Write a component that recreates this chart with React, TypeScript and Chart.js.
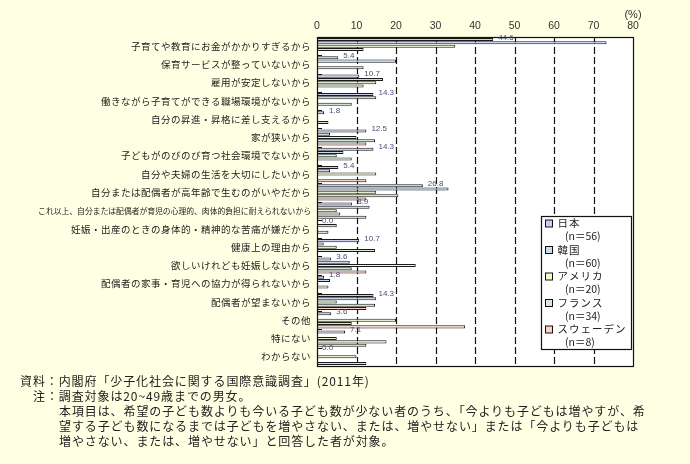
import React, { useEffect, useRef } from 'react';
import { Chart, registerables } from 'chart.js';

Chart.register(...registerables);

const categories = [
  '子育てや教育にお金がかかりすぎるから',
  '保育サービスが整っていないから',
  '雇用が安定しないから',
  '働きながら子育てができる職場環境がないから',
  '自分の昇進・昇格に差し支えるから',
  '家が狭いから',
  '子どもがのびのび育つ社会環境でないから',
  '自分や夫婦の生活を大切にしたいから',
  '自分または配偶者が高年齢で生むのがいやだから',
  'これ以上、自分または配偶者が育児の心理的、肉体的負担に耐えられないから',
  '妊娠・出産のときの身体的・精神的な苦痛が嫌だから',
  '健康上の理由から',
  '欲しいけれども妊娠しないから',
  '配偶者の家事・育児への協力が得られないから',
  '配偶者が望まないから',
  'その他',
  '特にない',
  'わからない',
];

const japan = [44.6, 5.4, 10.7, 14.3, 1.8, 12.5, 14.3, 5.4, 26.8, 8.9, 0.0, 10.7, 3.6, 1.8, 14.3, 3.6, 7.1, 0.0];
const korea = [73.3, 20.0, 16.7, 15.0, 0, 3.3, 6.7, 3.3, 33.3, 13.3, 5.0, 1.7, 8.3, 3.3, 15.0, 0, 0, 0];
const usa = [35.0, 0, 15.0, 0, 0, 10.0, 5.0, 15.0, 15.0, 5.0, 0, 5.0, 25.0, 0, 5.0, 20.0, 5.0, 10.0];
const france = [11.8, 11.8, 11.8, 8.8, 2.9, 14.7, 8.8, 0, 20.6, 5.9, 2.9, 14.7, 8.8, 2.9, 14.7, 8.8, 17.6, 0];
const sweden = [0, 0, 0, 0, 0, 12.5, 0, 12.5, 12.5, 12.5, 0, 0, 12.5, 0, 12.5, 37.5, 12.5, 12.5];

const seriesNames = ['日本', '韓国', 'アメリカ', 'フランス', 'スウェーデン'];
const seriesN = ['(n＝56)', '(n＝60)', '(n＝20)', '(n＝34)', '(n＝8)'];
const seriesColors = ['#CCCCEE', '#C4DCF4', '#F2F9CC', '#D5EBD5', '#F9D4C4'];

const xTicks = [0, 10, 20, 30, 40, 50, 60, 70, 80];

const noteLines = [
  '資料：内閣府「少子化社会に関する国際意識調査」(2011年)',
  '注：調査対象は20~49歳までの男女。',
  '本項目は、希望の子ども数よりも今いる子ども数が少ない者のうち、「今よりも子どもは増やすが、希',
  '望する子ども数になるまでは子どもを増やさない、または、増やせない」または「今よりも子どもは',
  '増やさない、または、増やせない」と回答した者が対象。',
];

const JP_FONT = '"Noto Sans CJK JP", "Noto Sans", sans-serif';
const NUM_FONT = '"Liberation Sans", Arial, sans-serif';

const customPlugin = {
  id: 'customDraw',
  beforeDatasetsDraw(chart: any) {
    const { ctx, chartArea: a, scales } = chart;
    const x = scales.x;
    ctx.save();
    ctx.fillStyle = '#ffffff';
    ctx.fillRect(a.left, a.top, a.right - a.left, a.bottom - a.top);
    ctx.strokeStyle = '#111';
    ctx.lineWidth = 1.2;
    ctx.setLineDash([7, 3]);
    for (const v of xTicks) {
      if (v === 0 || v === 80) continue;
      const px = Math.round(x.getPixelForValue(v)) + 0.5;
      ctx.beginPath();
      ctx.moveTo(px, a.top);
      ctx.lineTo(px, a.bottom);
      ctx.stroke();
    }
    ctx.restore();
  },
  afterDatasetsDraw(chart: any) {
    const { ctx, chartArea: a, scales } = chart;
    const x = scales.x;
    const y = scales.y;
    ctx.save();
    // border
    ctx.strokeStyle = '#111';
    ctx.lineWidth = 1.2;
    ctx.setLineDash([]);
    ctx.strokeRect(Math.round(a.left) + 0.5, Math.round(a.top) + 0.5, Math.round(a.right - a.left), Math.round(a.bottom - a.top));
    // inner ticks at category boundaries
    ctx.lineWidth = 1;
    for (let i = 0; i <= categories.length; i++) {
      const py = Math.round(y.getPixelForValue(i - 0.5)) + 0.5;
      ctx.beginPath();
      ctx.moveTo(a.left, py);
      ctx.lineTo(a.left + 5, py);
      ctx.stroke();
    }
    // data labels for Japan
    const meta = chart.getDatasetMeta(0);
    ctx.font = `8px ${NUM_FONT}`;
    ctx.fillStyle = '#4b4b7d';
    ctx.textAlign = 'left';
    ctx.textBaseline = 'middle';
    meta.data.forEach((bar: any, i: number) => {
      ctx.fillText(japan[i].toFixed(1), bar.x + 5, bar.y - 2);
    });
    // category labels
    ctx.fillStyle = '#222';
    ctx.textAlign = 'right';
    categories.forEach((c, i) => {
      const py = y.getPixelForValue(i);
      if (c.length > 30) {
        ctx.font = `7.8px ${JP_FONT}`;
        (ctx as any).letterSpacing = '0px';
      } else {
        ctx.font = `9.5px ${JP_FONT}`;
        (ctx as any).letterSpacing = '0.5px';
      }
      ctx.fillText(c, a.left - 6, py);
    });
    (ctx as any).letterSpacing = '0px';
    // (%)
    ctx.font = `11px ${NUM_FONT}`;
    ctx.fillStyle = '#333';
    ctx.textAlign = 'center';
    ctx.fillText('(%)', x.getPixelForValue(80), 15);
    // legend
    const bx = 541, by = 216, bw = 90, bh = 133;
    ctx.fillStyle = '#fff';
    ctx.fillRect(bx, by, bw, bh);
    ctx.strokeStyle = '#111';
    ctx.lineWidth = 1.2;
    ctx.strokeRect(bx + 0.5, by + 0.5, bw, bh);
    ctx.lineWidth = 1;
    ctx.textAlign = 'left';
    seriesNames.forEach((name, i) => {
      const ly = 223.5 + i * 26.5;
      ctx.fillStyle = seriesColors[i];
      ctx.fillRect(545.5, ly - 3.5, 7, 7);
      ctx.strokeStyle = '#111';
      ctx.strokeRect(545.5, ly - 3.5, 7, 7);
      ctx.fillStyle = '#222';
      ctx.font = `10.5px ${JP_FONT}`;
      (ctx as any).letterSpacing = '1px';
      ctx.fillText(name, 557.5, ly);
      (ctx as any).letterSpacing = '0px';
      ctx.font = `10.5px ${JP_FONT}`;
      ctx.fillText(seriesN[i], 565, ly + 12.6);
    });
    ctx.restore();
  },
};

export default function App() {
  const canvasRef = useRef<HTMLCanvasElement | null>(null);

  useEffect(() => {
    const canvas = canvasRef.current;
    if (!canvas) return;
    const data = [japan, korea, usa, france, sweden];
    const chart = new Chart(canvas, {
      type: 'bar',
      data: {
        labels: categories,
        datasets: seriesNames.map((name, i) => ({
          label: name,
          data: data[i],
          backgroundColor: seriesColors[i],
          borderColor: '#1a1a1a',
          borderWidth: 1,
          borderSkipped: false,
          categoryPercentage: 0.9,
          barPercentage: 0.92,
        })),
      },
      options: {
        indexAxis: 'y',
        responsive: false,
        animation: false,
        layout: { padding: { left: 317, right: 57, top: 17, bottom: 98 } },
        plugins: {
          legend: { display: false },
          tooltip: { enabled: false },
        },
        scales: {
          x: {
            position: 'top',
            min: 0,
            max: 80,
            afterBuildTicks: (scale: any) => {
              scale.ticks = xTicks.map((v) => ({ value: v }));
            },
            afterFit: (scale: any) => {
              scale.height = 20;
            },
            ticks: {
              font: { size: 10.5, family: NUM_FONT },
              color: '#333',
              padding: 5,
              maxRotation: 0,
            },
            grid: { display: false, drawTicks: false },
            border: { display: false },
          },
          y: {
            display: false,
          },
        },
      },
      plugins: [customPlugin],
    } as any);
    return () => chart.destroy();
  }, []);

  return (
    <div
      style={{
        position: 'fixed',
        left: 0,
        top: 0,
        width: 690,
        height: 464,
        background: '#FFFFE3',
        overflow: 'hidden',
      }}
    >
      <canvas
        ref={canvasRef}
        width={690}
        height={464}
        style={{ position: 'absolute', left: 0, top: 0, width: 690, height: 464 }}
      />
      <div
        style={{
          position: 'absolute',
          left: 0,
          top: 373,
          width: 690,
          fontFamily: JP_FONT,
          fontSize: 12,
          letterSpacing: '0.9px',
          lineHeight: '15px',
          color: '#222',
          whiteSpace: 'pre',
        }}
      >
        <div style={{ paddingLeft: 20 }}>{noteLines[0]}</div>
        <div style={{ paddingLeft: 33 }}>{noteLines[1]}</div>
        <div style={{ paddingLeft: 59 }}>{noteLines[2]}</div>
        <div style={{ paddingLeft: 59 }}>{noteLines[3]}</div>
        <div style={{ paddingLeft: 59 }}>{noteLines[4]}</div>
      </div>
    </div>
  );
}
